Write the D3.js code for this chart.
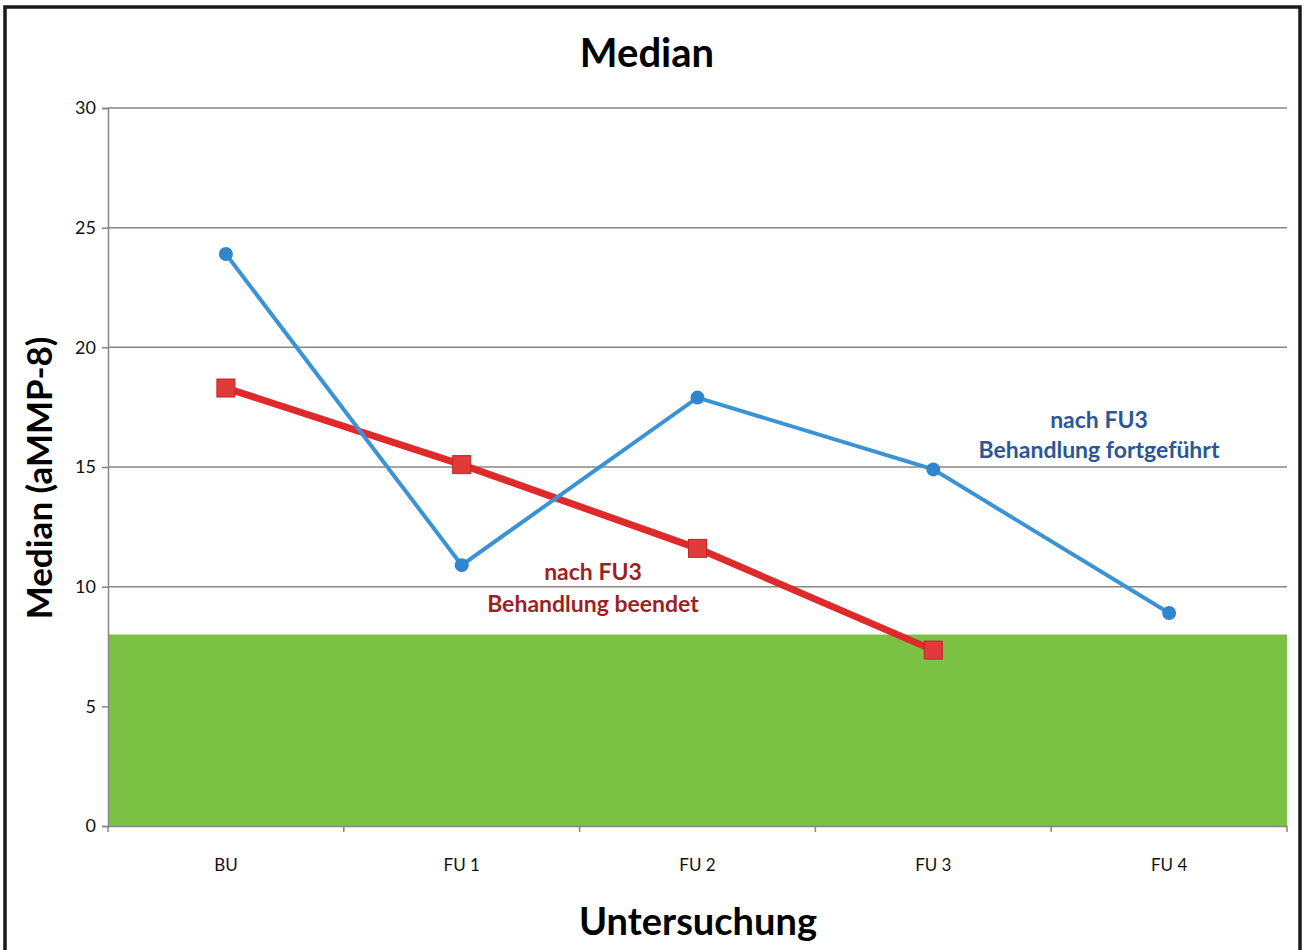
<!DOCTYPE html>
<html lang="de">
<head>
<meta charset="utf-8">
<title>Median</title>
<script src="https://cdn.jsdelivr.net/npm/d3@7"></script>
<style>
  body { margin: 0; background: #fff; }
  svg text { font-family: Lato, "Open Sans", sans-serif; }
</style>
</head>
<body>
<div id="chart"></div>
<script>
// data
var categories = ["BU", "FU 1", "FU 2", "FU 3", "FU 4"];
var fortgefuehrt = [23.9, 10.9, 17.9, 14.9, 8.9];   // blue, circles
var beendet = [18.3, 15.1, 11.6, 7.35];              // red, squares
var yTicks = [0, 5, 10, 15, 20, 25, 30];
var greenLimit = 8;

var width = 1305, height = 950;
var margin = {left: 108, right: 18, top: 108, bottom: 124};

var svg = d3.select("#chart").append("svg")
    .attr("width", width)
    .attr("height", height);

// frame
svg.append("rect")
    .attr("x", 5).attr("y", 7)
    .attr("width", 1295).attr("height", 960)
    .attr("fill", "none")
    .attr("stroke", "#1a1a1a")
    .attr("stroke-width", 3.5);

var x = d3.scaleBand()
    .domain(categories)
    .range([margin.left, width - margin.right])
    .padding(0);

var y = d3.scaleLinear()
    .domain([0, 30])
    .range([height - margin.bottom, margin.top]);

function cx(d, i) { return x(categories[i]) + x.bandwidth() / 2; }

// gridlines
svg.append("g")
    .selectAll("line")
    .data(yTicks.filter(function(d) { return d > 0; }))
    .enter().append("line")
    .attr("x1", margin.left)
    .attr("x2", width - margin.right)
    .attr("y1", function(d) { return y(d); })
    .attr("y2", function(d) { return y(d); })
    .attr("stroke", "#8c8582")
    .attr("stroke-width", 1.5);

// green zone (covers the gridline at 5)
svg.append("rect")
    .attr("x", margin.left)
    .attr("y", y(greenLimit))
    .attr("width", width - margin.right - margin.left)
    .attr("height", y(0) - y(greenLimit))
    .attr("fill", "#7bc144");

// y axis
var yAxis = svg.append("g")
    .attr("transform", "translate(" + margin.left + ",0)")
    .call(d3.axisLeft(y).tickValues(yTicks).tickSize(6).tickPadding(6));
yAxis.selectAll("line, path").attr("stroke", "#868686").attr("stroke-width", 1.5);
yAxis.selectAll("text").attr("font-size", 18).attr("fill", "#111")
    .style("font-family", "Lato, sans-serif");

// x axis: ticks at band boundaries
var xAxis = svg.append("g")
    .attr("transform", "translate(0," + y(0) + ")")
    .call(d3.axisBottom(x).tickSize(0).tickPadding(33));
xAxis.select("path").attr("stroke", "#868686").attr("stroke-width", 1.5);
xAxis.selectAll("text").attr("font-size", 17).attr("fill", "#111")
    .style("font-family", "Lato, sans-serif");
xAxis.selectAll(".bound")
    .data(d3.range(categories.length + 1))
    .enter().append("line")
    .attr("class", "bound")
    .attr("x1", function(i) { return margin.left + i * x.bandwidth(); })
    .attr("x2", function(i) { return margin.left + i * x.bandwidth(); })
    .attr("y1", 0).attr("y2", 6)
    .attr("stroke", "#868686")
    .attr("stroke-width", 1.5);

// red series
var line = d3.line()
    .x(function(d, i) { return cx(d, i); })
    .y(function(d) { return y(d); });

svg.append("path")
    .datum(beendet)
    .attr("d", line)
    .attr("fill", "none")
    .attr("stroke", "#df2a2c")
    .attr("stroke-width", 7);

// blue series
svg.append("path")
    .datum(fortgefuehrt)
    .attr("d", line)
    .attr("fill", "none")
    .attr("stroke", "#3993d4")
    .attr("stroke-width", 4);

svg.selectAll(".sq")
    .data(beendet)
    .enter().append("rect")
    .attr("class", "sq")
    .attr("x", function(d, i) { return cx(d, i) - 9; })
    .attr("y", function(d) { return y(d) - 9; })
    .attr("width", 18).attr("height", 18)
    .attr("fill", "#e03a3a")
    .attr("stroke", "#c42326")
    .attr("stroke-width", 1);

svg.selectAll(".dot")
    .data(fortgefuehrt)
    .enter().append("circle")
    .attr("class", "dot")
    .attr("cx", cx)
    .attr("cy", function(d) { return y(d); })
    .attr("r", 7)
    .attr("fill", "#2f86cc");

// annotations
var blueNote = svg.append("text")
    .attr("text-anchor", "middle")
    .attr("font-size", 23)
    .attr("font-weight", "bold")
    .attr("fill", "#2b5797");
blueNote.append("tspan").attr("x", 1099).attr("y", 428).text("nach FU3");
blueNote.append("tspan").attr("x", 1099).attr("y", 458).text("Behandlung fortgeführt");

var redNote = svg.append("text")
    .attr("text-anchor", "middle")
    .attr("font-size", 23)
    .attr("font-weight", "bold")
    .attr("fill", "#9e1f26");
redNote.append("tspan").attr("x", 593).attr("y", 580).text("nach FU3");
redNote.append("tspan").attr("x", 593).attr("y", 612).text("Behandlung beendet");

// titles
svg.append("text")
    .attr("x", 647).attr("y", 67)
    .attr("text-anchor", "middle")
    .attr("font-size", 40)
    .attr("font-weight", "bold")
    .text("Median");

svg.append("text")
    .attr("transform", "translate(52,478) rotate(-90)")
    .attr("text-anchor", "middle")
    .attr("font-size", 35)
    .attr("font-weight", "bold")
    .text("Median (aMMP-8)");

svg.append("text")
    .attr("x", 698).attr("y", 935)
    .attr("text-anchor", "middle")
    .attr("font-size", 38)
    .attr("font-weight", "bold")
    .text("Untersuchung");
</script>
</body>
</html>
